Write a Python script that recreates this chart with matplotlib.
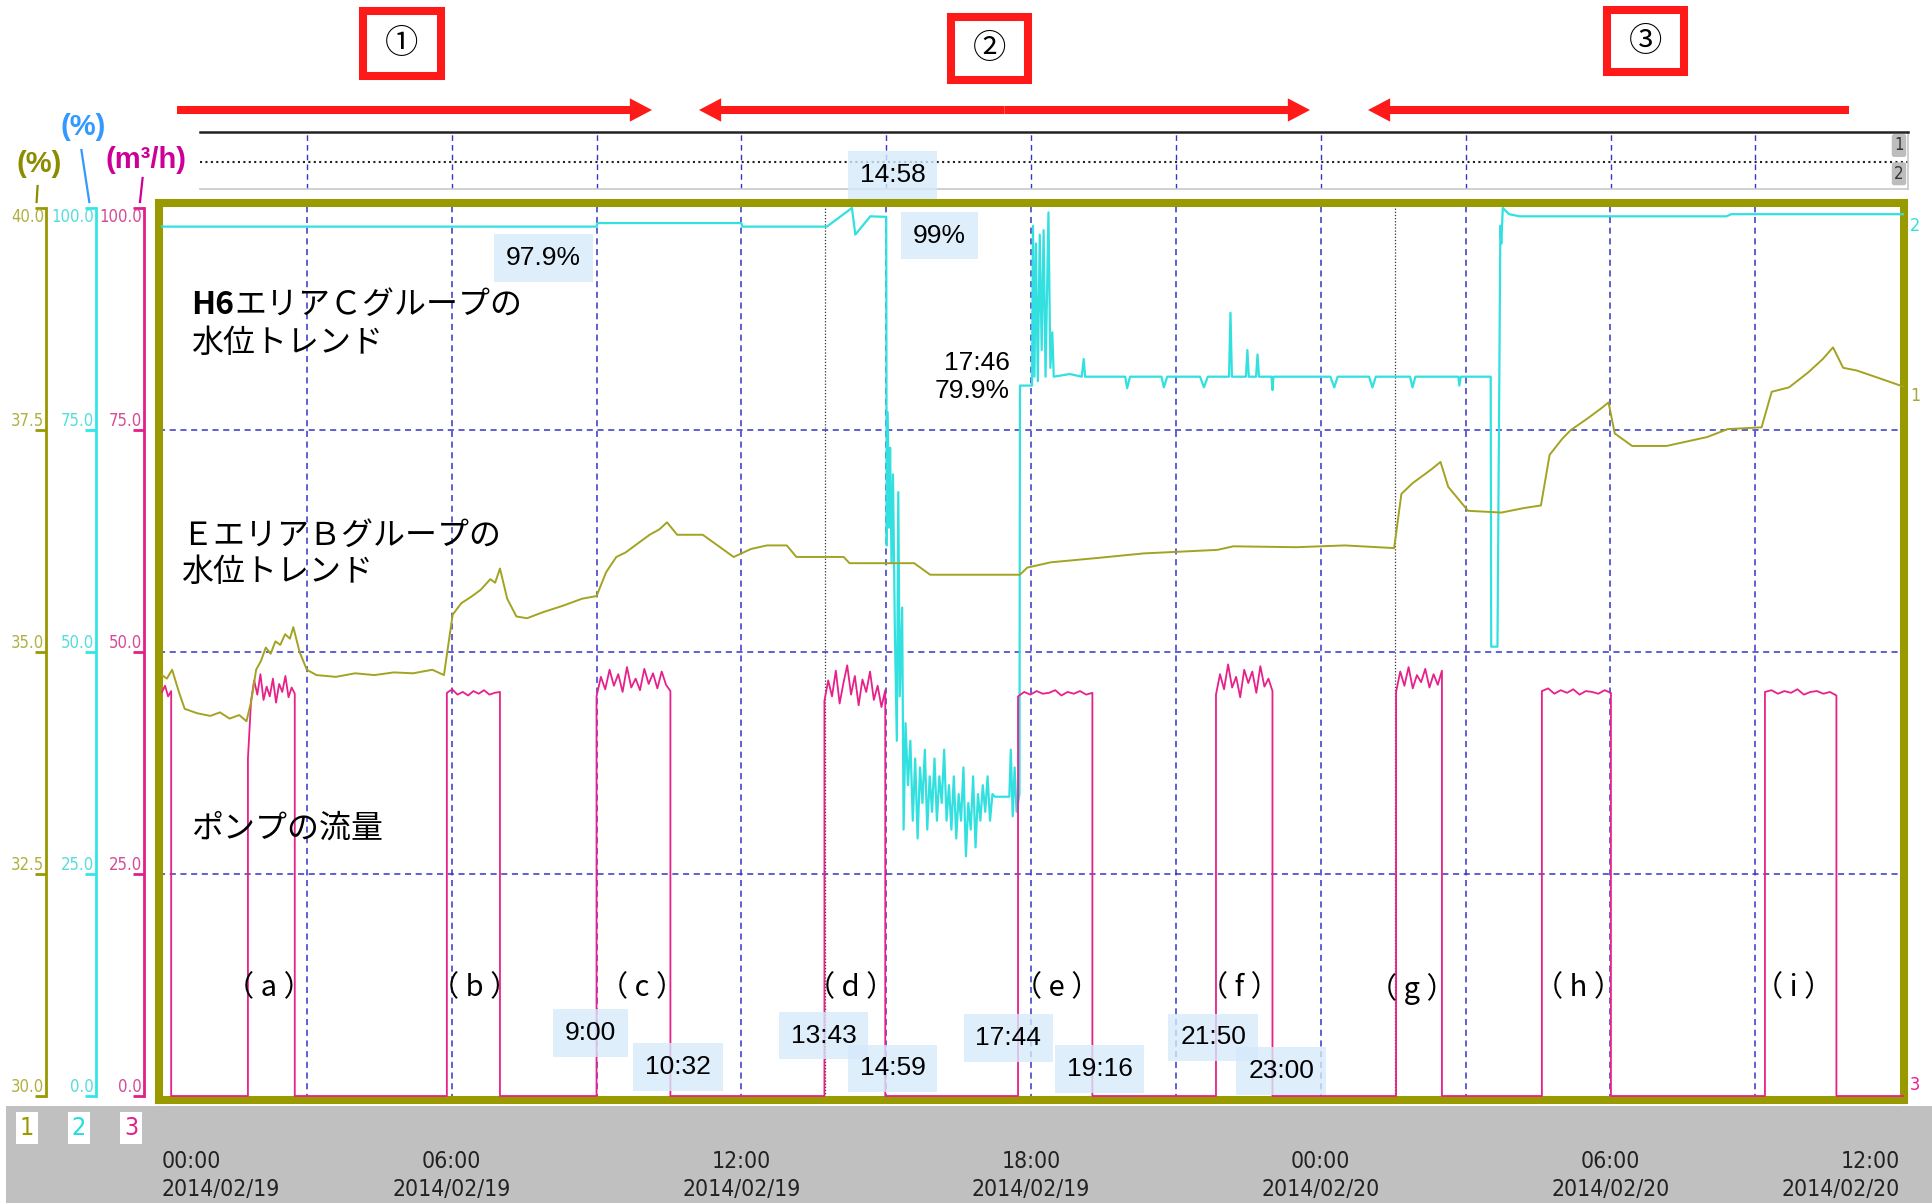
import numpy as np
import matplotlib
matplotlib.use("Agg")
import matplotlib.pyplot as plt
from matplotlib import font_manager
from matplotlib.font_manager import FontProperties
from matplotlib.patches import Rectangle, FancyArrowPatch, ArrowStyle
from matplotlib.lines import Line2D

W, H = 1933, 1203
JP = ['Noto Sans CJK JP', 'DejaVu Sans']
plt.rcParams['font.family'] = JP
SANS = 'Liberation Sans'

# a narrow font for the recorder's own labels, if one is installed
narrow_path = None
for f in font_manager.fontManager.ttflist:
    if f.name in ('Liberation Sans Narrow', 'DejaVu Sans', 'Noto Sans', 'Roboto', 'Open Sans') \
            and str(f.stretch) in ('condensed', 'semi-condensed', 'extra-condensed') \
            and f.style == 'normal' and f.weight in (400, 'normal', 'regular'):
        narrow_path = f.fname
        break
if narrow_path is None:
    for f in font_manager.fontManager.ttflist:
        if f.name == 'Liberation Sans Narrow' and f.style == 'normal':
            narrow_path = f.fname
            break


def narrow(size):
    if narrow_path:
        return FontProperties(fname=narrow_path, size=size)
    return FontProperties(family='DejaVu Sans Mono', size=size * 0.85)


# ---- data (time in hours from 2014/02/19 00:00) ----
# E area B group water level (%), left olive scale 30-40
olive_t = [0.00, 0.10, 0.21, 0.35, 0.47, 0.73, 1.00, 1.20, 1.40, 1.60, 1.75, 1.85, 1.95, 2.05,
           2.15, 2.25, 2.35, 2.45, 2.55, 2.65, 2.72, 2.85, 3.00, 3.20, 3.60, 4.00, 4.40, 4.80,
           5.20, 5.60, 5.84, 6.02, 6.20, 6.40, 6.60, 6.80, 6.90, 7.00, 7.15, 7.34, 7.56, 7.90,
           8.30, 8.70, 9.00, 9.20, 9.41, 9.60, 9.80, 10.00, 10.10, 10.30, 10.46, 10.67, 11.20,
           11.84, 12.20, 12.53, 12.94, 13.14, 14.12, 14.24, 15.58, 15.91, 17.77, 17.92, 18.41,
           19.40, 20.33, 21.10, 21.86, 22.19, 23.50, 24.50, 25.52, 25.67, 25.90, 26.10, 26.30,
           26.48, 26.64, 27.05, 27.74, 28.20, 28.56, 28.74, 29.00, 29.18, 29.50, 29.80, 29.96,
           30.09, 30.45, 31.16, 32.00, 32.43, 33.13, 33.34, 33.70, 34.10, 34.40, 34.61, 34.82,
           35.10, 35.53, 36.06]
olive_v = [34.74, 34.70, 34.80, 34.55, 34.36, 34.31, 34.28, 34.32, 34.25, 34.29, 34.22, 34.45,
           34.80, 34.90, 35.05, 34.98, 35.12, 35.08, 35.20, 35.15, 35.28, 35.00, 34.80, 34.74,
           34.72, 34.76, 34.74, 34.77, 34.76, 34.80, 34.74, 35.42, 35.55, 35.62, 35.70, 35.82,
           35.78, 35.94, 35.60, 35.40, 35.38, 35.45, 35.52, 35.60, 35.63, 35.90, 36.07, 36.12,
           36.20, 36.28, 36.32, 36.38, 36.46, 36.32, 36.32, 36.07, 36.16, 36.20, 36.20, 36.07,
           36.07, 36.00, 36.00, 35.87, 35.87, 35.95, 36.01, 36.06, 36.11, 36.13, 36.15, 36.19,
           36.18, 36.20, 36.17, 36.78, 36.90, 36.98, 37.06, 37.14, 36.86, 36.59, 36.57, 36.62,
           36.65, 37.22, 37.40, 37.50, 37.62, 37.74, 37.81, 37.46, 37.32, 37.32, 37.42, 37.51,
           37.53, 37.93, 37.98, 38.15, 38.30, 38.43, 38.20, 38.17, 38.09, 37.99]

# H6 area C group water level (%), cyan scale 0-100
cyan_t = [0.00, 9.00, 9.02, 12.00, 12.02, 13.77, 14.29, 14.36, 14.67, 15.00, 15.01, 15.03,
          15.06, 15.08, 15.11, 15.14, 15.18, 15.22, 15.25, 15.28, 15.33, 15.36, 15.40, 15.45,
          15.50, 15.55, 15.60, 15.65, 15.70, 15.75, 15.80, 15.85, 15.90, 15.95, 16.00, 16.05,
          16.10, 16.15, 16.20, 16.25, 16.30, 16.35, 16.40, 16.45, 16.50, 16.55, 16.60, 16.65,
          16.70, 16.75, 16.80, 16.85, 16.90, 16.95, 17.00, 17.05, 17.10, 17.15, 17.20, 17.25,
          17.55, 17.58, 17.62, 17.66, 17.70, 17.76, 17.77, 18.02, 18.04, 18.07, 18.10, 18.14,
          18.18, 18.22, 18.26, 18.30, 18.36, 18.40, 18.44, 18.47, 18.80, 19.05, 19.09, 19.12,
          19.95, 19.99, 20.05, 20.70, 20.75, 20.82, 21.50, 21.58, 21.66, 22.10, 22.13, 22.16,
          22.45, 22.48, 22.51, 22.66, 22.69, 22.72, 22.98, 23.00, 23.02, 24.20, 24.28, 24.35,
          25.00, 25.07, 25.14, 25.85, 25.90, 25.96, 26.85, 26.87, 26.90, 27.52, 27.53, 27.66,
          27.72, 27.74, 27.77, 27.90, 28.12, 32.40, 32.50, 36.06]
cyan_v = [97.9, 97.9, 98.3, 98.3, 97.9, 97.9, 100.0, 97.0, 99.06, 99.0, 62.0, 77.0,
          64.0, 73.0, 60.0, 70.0, 52.0, 40.0, 68.0, 45.0, 55.0, 30.0, 42.0, 35.0,
          40.0, 31.0, 38.0, 29.0, 37.0, 33.0, 39.0, 30.0, 36.0, 32.0, 38.0, 31.0,
          36.0, 33.0, 39.0, 31.0, 35.0, 30.0, 36.0, 29.0, 34.0, 31.0, 37.0, 27.0,
          33.0, 30.0, 36.0, 28.0, 34.0, 31.0, 35.0, 32.0, 36.0, 31.0, 34.0, 33.7,
          33.7, 39.0, 31.5, 37.0, 32.0, 34.0, 80.0, 80.0, 98.0, 81.0, 96.0, 80.5,
          97.0, 84.0, 97.5, 81.0, 99.5, 82.0, 86.0, 81.0, 81.3, 81.0, 83.0, 81.0,
          81.0, 79.7, 81.0, 81.0, 79.8, 81.0, 81.0, 79.8, 81.0, 81.0, 88.2, 81.0,
          81.0, 84.0, 81.0, 81.0, 83.5, 81.0, 81.0, 79.5, 81.0, 81.0, 79.8, 81.0,
          81.0, 79.8, 81.0, 81.0, 79.8, 81.0, 81.0, 80.0, 81.0, 81.0, 50.6, 50.6,
          98.0, 96.0, 100.0, 99.3, 99.06, 99.06, 99.3, 99.3]

# pump flow (m3/h): on/off times and levels read along each run
pump_on = [0.00, 1.78, 5.90, 9.00, 13.72, 17.73, 21.83, 25.56, 28.58, 33.20]
pump_off = [0.19, 2.75, 7.00, 10.53, 14.98, 19.27, 23.00, 26.51, 30.01, 34.68]
pump_levels = [
    [45.5, 46.2, 45.0, 45.6],
    [38.0, 44.5, 46.8, 45.2, 47.5, 44.6, 46.1, 45.0, 47.0, 44.3, 46.4, 45.5, 47.3, 44.9, 46.0, 45.3],
    [45.4, 45.8, 45.2, 45.5, 45.1, 45.6, 45.3, 45.7, 45.2, 45.4, 45.5],
    [45.0, 47.2, 45.8, 48.0, 46.2, 47.5, 45.5, 48.3, 46.0, 47.0, 45.7, 48.1, 46.4, 47.6, 45.9, 47.8, 46.3, 45.6],
    [44.5, 46.8, 45.0, 47.9, 44.2, 46.5, 48.5, 45.2, 47.3, 44.0, 46.9, 45.5, 47.8, 44.6, 46.2, 43.8, 45.7],
    [45.0, 45.5, 45.2, 45.6, 45.3, 45.4, 45.7, 45.1, 45.5, 45.3, 45.6, 45.2, 45.4],
    [45.2, 47.5, 45.8, 48.6, 46.0, 47.2, 44.9, 48.0, 46.5, 47.8, 45.4, 48.4, 46.1, 47.0, 45.6],
    [45.5, 47.8, 46.2, 48.3, 45.9, 47.4, 46.6, 48.1, 46.0, 47.5, 46.3, 47.9],
    [45.6, 45.9, 45.3, 45.7, 45.4, 45.8, 45.2, 45.6, 45.5, 45.3, 45.7, 45.4],
    [45.5, 45.7, 45.3, 45.6, 45.4, 45.8, 45.2, 45.5, 45.6, 45.3, 45.5, 45.1],
]

tick_hours = [0, 6, 12, 18, 24, 30, 36]
tick_labels = ["00:00\n2014/02/19", "06:00\n2014/02/19", "12:00\n2014/02/19", "18:00\n2014/02/19",
               "00:00\n2014/02/20", "06:00\n2014/02/20", "12:00\n2014/02/20"]
olive_ticks = [30.0, 32.5, 35.0, 37.5, 40.0]
pct_ticks = [0.0, 25.0, 50.0, 75.0, 100.0]
cursor_hours = [13.73, 25.53]

event_labels = ["（ a ）", "（ b ）", "（ c ）", "（ d ）", "（ e ）", "（ f ）", "（ g ）", "（ h ）", "（ i ）"]
event_x = [2.21, 6.47, 9.95, 14.26, 18.53, 22.31, 25.88, 29.33, 33.80]

box_text = ["9:00", "10:32", "13:43", "14:59", "17:44", "19:16", "21:50", "23:00", "14:58", "99%", "97.9%"]
box_x = [8.88, 10.69, 13.70, 15.13, 17.53, 19.42, 21.77, 23.18, 15.13, 16.10, 7.90]
box_y = [7.1, 3.3, 6.8, 3.1, 6.5, 3.0, 6.6, 2.8, 103.7, 96.9, 94.4]

OLIVE = '#999900'
CYAN = '#33e0e0'
PINK = '#e8208a'
GRID = '#3434c8'


def fx(px):
    return px / W


def fy(py):
    return 1 - py / H


fig = plt.figure(figsize=(W / 100, H / 100), dpi=100)

# grey band at the bottom
fig.add_artist(Rectangle((fx(6), 0), (W - 6) / W, (H - 1106) / H, transform=fig.transFigure,
                         fc='#c0c0c0', ec='none', zorder=-1))

# event strip above the chart
axs = fig.add_axes([fx(200), fy(189), fx(1908) - fx(200), (189 - 132) / H], zorder=0)
axs.set_xlim(0.787, 36.16)
axs.set_ylim(0, 1)
axs.set_xticks([])
axs.set_yticks([])
axs.spines['left'].set_visible(False)
axs.spines['top'].set_color('#222222')
axs.spines['top'].set_linewidth(1.8)
for k in ['right', 'bottom']:
    axs.spines[k].set_color('#c8c8c8')
    axs.spines[k].set_linewidth(1.2)
axs.axhline(0.48, color='#222222', ls=(0, (1, 1.6)), lw=1.5)
for h in range(3, 36, 3):
    axs.axvline(h, color=GRID, ls=(0, (4, 3)), lw=1.0)
for lab, yy in [("1", 145.5), ("2", 173.8)]:
    fig.text(fx(1899), fy(yy), lab, ha='center', va='center', fontproperties=narrow(12),
             color='#333333', bbox=dict(boxstyle='round,pad=0.15', fc='#bdbdbd', ec='none'))

# main chart
ax = fig.add_axes([fx(159), fy(1100), fx(1904) - fx(159), (1100 - 203) / H], zorder=1)
ax.set_xlim(-0.062, 36.08)
ax.set_ylim(-0.45, 100.56)
for s in ax.spines.values():
    s.set_color(OLIVE)
    s.set_linewidth(5.8)
ax.set_yticks([])
ax.set_xticks(tick_hours)
ax.set_xticklabels(tick_labels, fontproperties=narrow(16.5), color='#222222', linespacing=1.3)
ax.tick_params(axis='x', length=0, pad=36)
xl = ax.get_xticklabels()
xl[0].set_ha('left')
xl[-1].set_ha('right')

for h in range(3, 36, 3):
    ax.axvline(h, color=GRID, ls=(0, (4, 3)), lw=1.1, zorder=1)
for v in [25, 50, 75]:
    ax.axhline(v, color=GRID, ls=(0, (4, 3)), lw=1.1, zorder=1)
for h in cursor_hours:
    ax.axvline(h, color='#333333', ls=(0, (1, 1.5)), lw=0.9, zorder=1)

# pump flow trace
pt, pv = [], []
for on, off, lev in zip(pump_on, pump_off, pump_levels):
    if on > 0:
        pt.append(on)
        pv.append(0.0)
    pt.extend(np.linspace(on, off, len(lev)))
    pv.extend(lev)
    pt.append(off)
    pv.append(0.0)
pt.append(36.1)
pv.append(0.0)
ax.plot(pt, pv, color=PINK, lw=1.3, zorder=3)

ax.plot(cyan_t, cyan_v, color=CYAN, lw=1.6, zorder=2.6)

ax2 = ax.twinx()
ax2.set_zorder(2)
ax2.set_ylim(30 - 0.045, 40 + 0.056)
ax2.set_axis_off()
ax2.plot(olive_t, olive_v, color='#a3a322', lw=1.4)

# text inside the chart
t1 = ax.text(0.6, 89.1, "H6", fontsize=23, weight='bold', va='center', ha='left', zorder=5)
ax.annotate("エリアＣグループの", xy=(1, 0), xycoords=t1, va='bottom', ha='left', fontsize=23, zorder=5)
ax.text(0.6, 84.8, "水位トレンド", fontsize=23, va='center', ha='left', zorder=5)
ax.text(0.4, 61.05, "ＥエリアＢグループの\n水位トレンド", fontsize=23, va='center', ha='left',
        linespacing=1.2, zorder=5)
ax.text(0.6, 30.1, "ポンプの流量", fontsize=23, va='center', ha='left', zorder=5)
for lab, x in zip(event_labels, event_x):
    ax.text(x, 12.1, lab, fontsize=21, va='center', ha='center', zorder=5)
for s, x, y in zip(box_text, box_x, box_y):
    ax.text(x, y, s, fontsize=19, family=SANS, ha='center', va='center', zorder=6,
            bbox=dict(boxstyle='square,pad=0.45', fc='#d6eafb', ec='none', alpha=0.8))
ax.text(17.56, 80.97, "17:46\n79.9%", fontsize=19, family=SANS, ha='right', va='center',
        multialignment='right', linespacing=1.2, zorder=6)

# right-hand channel numbers
fig.text(fx(1915), fy(226), "2", color=CYAN, fontproperties=narrow(13), ha='center', va='center')
fig.text(fx(1915), fy(396), "1", color='#a8a840', fontproperties=narrow(13), ha='center', va='center')
fig.text(fx(1915), fy(1085), "3", color=PINK, fontproperties=narrow(13), ha='center', va='center')


# left scales
def side_axis(px, ticks, color, txtcolor):
    a = fig.add_axes([fx(px), fy(1096), 0.0005, (1096 - 208) / H])
    a.set_ylim(ticks[0], ticks[-1])
    a.patch.set_visible(False)
    for k in ['top', 'right', 'bottom']:
        a.spines[k].set_visible(False)
    a.spines['left'].set_color(color)
    a.spines['left'].set_linewidth(2.0)
    a.set_xticks([])
    a.set_yticks(ticks)
    a.set_yticklabels([f"{t:.1f}" for t in ticks], fontproperties=narrow(12))
    a.tick_params(axis='y', direction='out', length=7.9, width=2.0, color=color, pad=-6.5,
                  labelcolor=txtcolor)
    labs = a.get_yticklabels()
    for lb in labs:
        lb.set_va('bottom')
    labs[-1].set_va('top')
    return a


side_axis(46, olive_ticks, '#999900', '#b0b040')
side_axis(96, pct_ticks, '#33e6e6', '#55dddd')
side_axis(144, pct_ticks, '#e0208a', '#d64a96')

fig.text(fx(39), fy(164), "(%)", color='#8c8c00', fontsize=21, weight='bold', family=SANS,
         ha='center', va='center')
fig.text(fx(83), fy(127), "(%)", color='#3399ff', fontsize=21, weight='bold', family=SANS,
         ha='center', va='center')
fig.text(fx(146), fy(160), "(m³/h)", color='#cc0099', fontsize=21, weight='bold', family=SANS,
         ha='center', va='center')
for (x0, y0, x1, y1, c) in [(37.6, 186, 36.6, 202, '#8c8c00'), (81.4, 150, 89.3, 202, '#3399ff'),
                            (142.6, 178, 140, 202, '#cc0099')]:
    fig.add_artist(Line2D([fx(x0), fx(x1)], [fy(y0), fy(y1)], transform=fig.transFigure,
                          color=c, lw=1.6))

# legend squares bottom-left
for lab, x, c in [("1", 27, '#999900'), ("2", 79, '#22dddd'), ("3", 131, '#e0208a')]:
    fig.text(fx(x), fy(1128), lab, color=c, fontproperties=narrow(18), ha='center', va='center',
             bbox=dict(boxstyle='square,pad=0.15', fc='white', ec='none'))

# red phase markers and arrows
for (x0, x1, y0, y1, s) in [(363, 441, 11, 76, "①"), (951, 1028, 17, 80, "②"), (1607, 1684, 10, 72, "③")]:
    fig.add_artist(Rectangle((fx(x0), fy(y1)), (x1 - x0) / W, (y1 - y0) / H,
                             transform=fig.transFigure, fill=False, ec='#ff1a1a', lw=5.8))
    fig.text(fx((x0 + x1) / 2), fy((y0 + y1) / 2), s, fontsize=24, ha='center', va='center',
             color='black')

arrow_style = ArrowStyle.Simple(head_length=0.55, head_width=0.58, tail_width=0.2)
mid2 = (699 + 1310) / 2
for (xa, xb) in [(177, 652), (mid2, 699), (mid2, 1310), (1849, 1368)]:
    fig.add_artist(FancyArrowPatch((fx(xa), fy(110)), (fx(xb), fy(110)), transform=fig.transFigure,
                                   arrowstyle=arrow_style, mutation_scale=29, fc='#ff1a1a',
                                   ec='none', shrinkA=0, shrinkB=0))

fig.savefig("out.png", dpi=100)
